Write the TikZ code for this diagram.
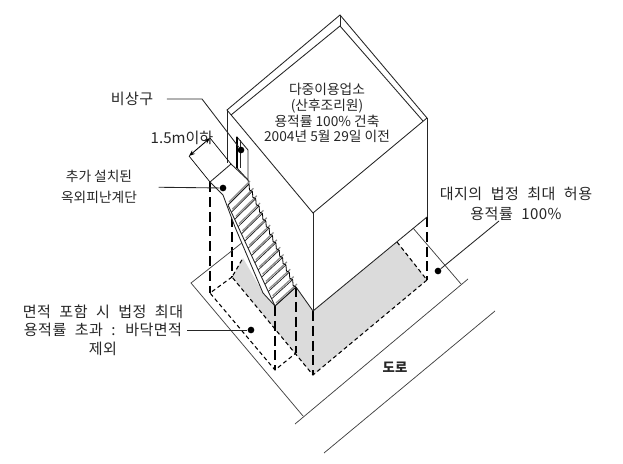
\documentclass[tikz,border=0pt]{standalone}
\usepackage{fontspec}
\setmainfont{Noto Sans CJK KR}
\newfontfamily\widefont[LetterSpace=3,WordSpace=2.2]{Noto Sans CJK KR}
\usetikzlibrary{arrows.meta,calc}

\begin{document}
\begin{tikzpicture}[
    x=0.75pt, y=-0.75pt,
    font=\fontsize{10.3}{12}\selectfont,
    wall/.style={line width=0.65pt, draw=black!85},
    thin line/.style={line width=0.55pt, draw=black!75},
    post/.style={line width=0.95pt, dash pattern=on 7.5pt off 3.6pt},
    ground/.style={line width=0.8pt, dash pattern=on 3pt off 2.2pt},
    leader/.style={line width=0.65pt, draw=black!85},
    dot/.style={circle, fill=black, inner sep=0pt, minimum size=5pt},
    lbl/.style={align=center, inner sep=0pt, text=black!85},
    wide lbl/.style={lbl, font=\widefont\fontsize{11.3}{13}\selectfont},
    dim/.style={{Stealth[length=1.6mm]}-{Stealth[length=1.6mm]}, line width=0.65pt}
]
\useasboundingbox (0,0) rectangle (623,463);

\coordinate (roofT) at (340,15);
\coordinate (roofL) at (227,110);
\coordinate (roofR) at (427,118);
\coordinate (roofF) at (313,213);
\coordinate (innerT) at (340,26);
\coordinate (innerL) at (231,115);
\coordinate (innerR) at (423,121);
\coordinate (baseF) at (313,311);
\coordinate (baseR) at (427,217);
\coordinate (wallL) at (227,163);
\coordinate (wallS) at (296,287);
\coordinate (gndA) at (397,242);
\coordinate (gndB) at (427,280);
\coordinate (gndF) at (313,375);
\coordinate (gndL) at (232,277);
\coordinate (gndT) at (243,258);
\coordinate (padL) at (210,293);
\coordinate (padF) at (275,370);
\coordinate (padR) at (296,353);
\coordinate (landL) at (210,182);
\coordinate (landT) at (231,164);
\coordinate (landR) at (248,180);
\coordinate (stairLa) at (228,205);
\coordinate (stairLb) at (275,306);
\coordinate (stairRa) at (249,184);
\coordinate (stairRb) at (296,287);
\coordinate (siteL) at (191,283);
\coordinate (siteT) at (243,242);
\coordinate (siteB) at (303,416);
\coordinate (siteA) at (413,228);
\coordinate (siteC) at (461,284);
\coordinate (roadAa) at (295,424);
\coordinate (roadAb) at (468,279);
\coordinate (roadBa) at (324,453);
\coordinate (roadBb) at (495,311);
\coordinate (doorA) at (237,137);
\coordinate (doorB) at (248,150);
\coordinate (doorC) at (237,168);
\coordinate (dimA) at (189,156);
\coordinate (dimB) at (210,138);
\coordinate (exitBend) at (202,99);
\coordinate (siteEnd) at (499,221);

\fill[black!14] (gndA) -- (gndB) -- (gndF) -- (gndL) -- (gndT) -- (263,293) -- (stairLb) -- (stairRb) -- (baseF) -- cycle;

\draw[post] (landL) -- (padL);
\draw[post] (232,217) -- (gndL);
\draw[post] (stairLb) -- (padF);
\draw[post] (stairRb) -- (padR);
\draw[post] (baseF) -- (gndF);
\draw[post] (baseR) -- (gndB);
\draw[ground] (gndA) -- (gndB) -- (gndF) -- (gndL) -- (gndT);
\draw[ground] (gndL) -- (padL) -- (padF) -- (padR);

\draw[thin line] (siteT) -- (siteL) -- (siteB);
\draw[thin line] (siteA) -- (siteC);
\draw[thin line] (roadAa) -- (roadAb);
\draw[thin line] (roadBa) -- (roadBb);

\draw[wall] (roofT) -- (roofL) -- (roofF) -- (roofR) -- cycle;
\draw[wall] (innerL) -- (innerT) -- (innerR);
\draw[wall] (roofT) -- (innerT);
\draw[wall] (roofL) -- (wallL);
\draw[wall] (roofF) -- (baseF);
\draw[wall] (roofR) -- (baseR);
\draw[wall] (baseR) -- (baseF) -- (wallS);

\fill[white] (landL) -- (landT) -- (landR) -- (stairRb) -- (stairLb) -- (263,293) -- (235,227) -- (223,195) -- cycle;
\draw[wall] (stairLb) -- (263,293) -- (235,227) -- (223,195) -- (landL) -- (landT) -- (landR) -- (stairRa);
\draw[wall] (stairLa) -- (stairLb);
\draw[wall] (stairLa) -- (stairRa);
\draw[wall] (stairLb) -- (stairRb);

\foreach \i in {0,...,14} {
  \pgfmathsetmacro{\t}{\i/14}
  \draw[line width=0.9pt, black!45] ($(stairLa)!\t!(stairLb)+(1,-3)$) -- ($(stairRa)!\t!(stairRb)+(1,-3)$);
  \draw[line width=0.5pt, black!90] ($(stairLa)!\t!(stairLb)$) -- ($(stairRa)!\t!(stairRb)$);
}
\foreach \i in {0,...,13} {
  \pgfmathsetmacro{\t}{\i/14}
  \pgfmathsetmacro{\u}{(\i+1)/14}
  \draw[line width=0.6pt] ($(stairRa)!\t!(stairRb)$) -- ($(stairRa)!\t!(stairRb)+(0.5,6)$) -- ($(stairRa)!\u!(stairRb)$);
}

\draw[wall, fill=white] (doorA) -- (doorB) -- (landR) -- (doorC) -- cycle;
\draw[line width=1pt] (doorA) -- (doorC);
\draw[wall] (240,140) -- (240,168);

\node[dot] (exitDot) at (241,150) {};
\node[dot] (stairDot) at (223,188) {};
\node[dot] (padDot) at (251,330) {};
\node[dot] (siteDot) at (438,271) {};

\draw[line width=0.5pt] (landL) -- (dimA);
\draw[line width=0.5pt] (landT) -- (dimB);
\draw[dim] (dimA) -- (dimB);

\node[lbl] (lblRoof) at (327,113) {다중이용업소\\[-0.2pt](산후조리원)\\[-0.2pt]용적률 100\% 건축\\[-0.2pt]2004년 5월 29일 이전};
\node[wide lbl] (lblExit) at (132,99) {비상구};
\node[lbl, font=\fontsize{11.3}{13}\selectfont] (lblDim) at (182,138) {1.5m이하};
\node[lbl] (lblStair) at (99,187) {추가 설치된\\[3.4pt]옥외피난계단};
\node[wide lbl] (lblPad) at (103,330) {면적 포함 시 법정 최대\\[1pt]용적률 초과 : 바닥면적\\[1pt]제외};
\node[wide lbl] (lblSite) at (516,204) {대지의 법정 최대 허용\\[2pt]용적률 100\%};
\node[lbl, font=\fontsize{10}{12}\selectfont\bfseries] (lblRoad) at (395,367) {도로};

\draw[leader, shorten <=10pt] (lblExit.east) -- (exitBend) -- (exitDot);
\draw[leader, shorten <=16pt] (lblStair.east) -- (stairDot);
\draw[leader, shorten <=3pt] (lblPad.east) -- (padDot);
\draw[leader] (siteEnd) -- (siteDot);
\end{tikzpicture}
\end{document}
